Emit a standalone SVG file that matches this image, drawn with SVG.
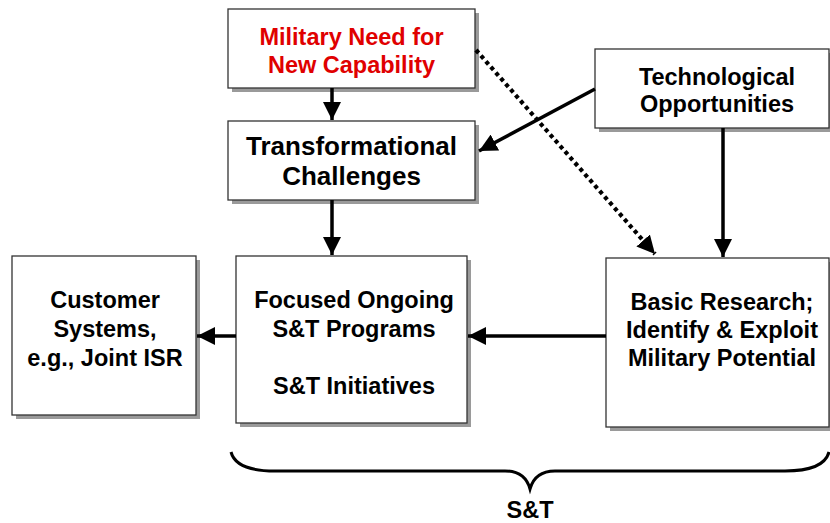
<svg xmlns="http://www.w3.org/2000/svg" width="830" height="523" viewBox="0 0 830 523">
<style>
.box{fill:#fff;stroke:#333;stroke-width:1.3}
.sh{fill:#9a9a9a}
.t{font-family:"Liberation Sans",Arial,sans-serif;font-weight:bold;font-size:23.5px;fill:#000;text-anchor:middle}
.red{fill:#e00000}
.big{font-size:26px}
.c{stroke:#000;stroke-width:3.5;fill:none}
.dot{stroke:#000;stroke-width:4.2;fill:none;stroke-dasharray:4 3.5}
</style>
<defs>
<marker id="ah" markerUnits="userSpaceOnUse" markerWidth="18" markerHeight="18" viewBox="0 0 16 16" refX="16" refY="8" orient="auto">
<path d="M0,0 L16,8 L0,16 Z" fill="#000"/>
</marker>
</defs>
<rect width="830" height="523" fill="#fff"/>
<g id="node-military">
<rect class="sh" x="232" y="13" width="247" height="79"/>
<rect class="box" x="228" y="9" width="247" height="79"/>
<text class="t red" x="351.5" y="45">Military Need for</text>
<text class="t red" x="351.5" y="73">New Capability</text>
</g>
<g id="node-transformational">
<rect class="sh" x="232" y="125" width="247" height="79"/>
<rect class="box" x="228" y="121" width="247" height="79"/>
<text class="t big" x="351.5" y="155">Transformational</text>
<text class="t big" x="351.5" y="185">Challenges</text>
</g>
<g id="node-technological">
<rect class="sh" x="599" y="53" width="240" height="79"/>
<rect class="box" x="595" y="49" width="234" height="79"/>
<text class="t" x="717" y="85">Technological</text>
<text class="t" x="717" y="112">Opportunities</text>
</g>
<g id="node-customer">
<rect class="sh" x="16" y="260" width="184" height="159"/>
<rect class="box" x="12" y="256" width="184" height="159"/>
<text class="t" x="105" y="308">Customer</text>
<text class="t" x="105" y="337">Systems,</text>
<text class="t" x="105" y="366">e.g., Joint ISR</text>
</g>
<g id="node-focused">
<rect class="sh" x="240" y="260" width="231" height="167"/>
<rect class="box" x="236" y="256" width="231" height="167"/>
<text class="t" x="354" y="308">Focused Ongoing</text>
<text class="t" x="354" y="337">S&amp;T Programs</text>
<text class="t" x="354" y="394">S&amp;T Initiatives</text>
</g>
<g id="node-basic">
<rect class="sh" x="610" y="262" width="230" height="169"/>
<rect class="box" x="606" y="258" width="223" height="169"/>
<text class="t" x="722" y="310">Basic Research;</text>
<text class="t" x="722" y="338">Identify &amp; Exploit</text>
<text class="t" x="722" y="366">Military Potential</text>
</g>
<g id="connectors">
<line class="c" x1="332" y1="88" x2="332" y2="120" marker-end="url(#ah)"/>
<line class="c" x1="332" y1="200" x2="332" y2="255" marker-end="url(#ah)"/>
<line class="c" x1="595" y1="89" x2="479" y2="151" marker-end="url(#ah)"/>
<line class="c" x1="723" y1="128" x2="723" y2="257" marker-end="url(#ah)"/>
<line class="c" x1="606" y1="336" x2="468" y2="336" marker-end="url(#ah)"/>
<line class="c" x1="236" y1="336" x2="197" y2="336" marker-end="url(#ah)"/>
<line class="dot" x1="476" y1="50" x2="655" y2="254" marker-end="url(#ah)"/>
</g>
<path id="brace" d="M231,452 Q236,471 275,471 L505,471 Q525,471 530,489 Q535,471 555,471 L785,471 Q824,471 829,452" fill="none" stroke="#000" stroke-width="3"/>
<text class="t" x="530" y="518">S&amp;T</text>
</svg>
